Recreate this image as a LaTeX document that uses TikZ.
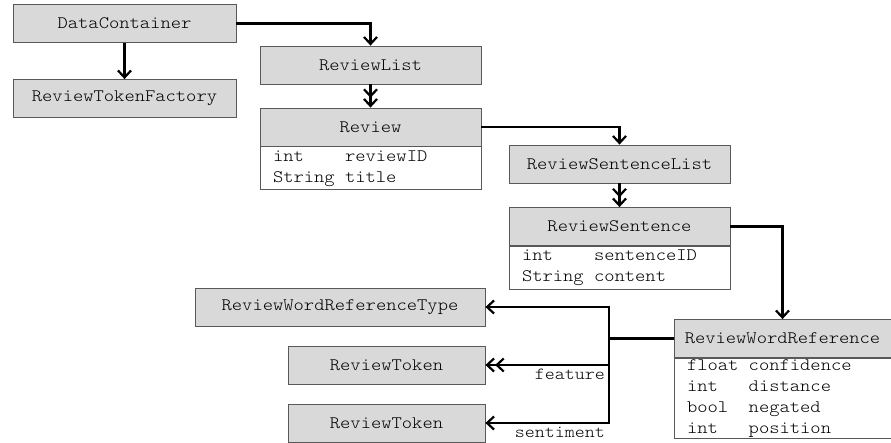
\documentclass[tikz,border=0pt]{standalone}
\usepackage{fontspec}
\setmonofont{Latin Modern Mono Light}[FakeStretch=1.12]
\usetikzlibrary{arrows.meta}
\newcommand\typecol[3]{\makebox[#1\fontcharwd\font`0][l]{#2}#3}
\tikzset{classhead/.style={draw=black!65,fill=black!15,line width=0.8pt,minimum height=38pt,inner sep=0pt,font=\ttfamily\fontsize{17.5}{21}\selectfont,text=black},
  classattr/.style={draw=black!65,fill=white,line width=0.8pt,inner xsep=13pt,inner ysep=0pt,align=left,anchor=north,font=\ttfamily\fontsize{17.5}{21}\selectfont,text=black},
  assoc/.style={line width=2.2pt,>={Straight Barb[length=7pt,width=13pt]}},
  rolelbl/.style={inner sep=3pt,font=\ttfamily\fontsize{17}{20}\selectfont,text=black}}

\begin{document}
\begin{tikzpicture}[x=1pt,y=-1pt]
\useasboundingbox (0,0) rectangle (891,443);
\node[classhead,minimum width=223pt] (DC)  at (124.5,23.5) {DataContainer};
\node[classhead,minimum width=223pt] (RTF) at (124.5,98.5) {ReviewTokenFactory};
\node[classhead,minimum width=221pt] (RL)  at (370.5,65)   {ReviewList};
\node[classhead,minimum width=221pt] (Review) at (370.5,127) {Review};
\node[classattr,minimum height=43pt,text width=195pt] (Review-attr) at (Review.south) {\typecol{7}{int}{reviewID}\\\typecol{7}{String}{title}};
\node[classhead,minimum width=221pt] (RSL) at (619.5,164)  {ReviewSentenceList};
\node[classhead,minimum width=221pt] (RS)  at (619.5,226.5) {ReviewSentence};
\node[classattr,minimum height=43pt,text width=195pt] (RS-attr) at (RS.south) {\typecol{7}{int}{sentenceID}\\\typecol{7}{String}{content}};
\node[classhead,minimum width=217pt] (RWR) at (782.5,338.5) {ReviewWordReference};
\node[classattr,minimum height=80pt,text width=191pt] (RWR-attr) at (RWR.south) {\typecol{6}{float}{confidence}\\\typecol{6}{int}{distance}\\\typecol{6}{bool}{negated}\\\typecol{6}{int}{position}};
\node[classhead,minimum width=290pt] (RWRT) at (340,307)   {ReviewWordReferenceType};
\node[classhead,minimum width=197pt] (RT1)  at (386.5,365) {ReviewToken};
\node[classhead,minimum width=197pt] (RT2)  at (386.5,423) {ReviewToken};
% associations
\draw[assoc,->]  (DC.east) -| (RL.north);
\draw[assoc,->]  (DC.south) -- (RTF.north);
\draw[assoc,->>] (RL.south) -- (Review.north);
\draw[assoc,->]  (Review.east) -| (RSL.north);
\draw[assoc,->>] (RSL.south) -- (RS.north);
\draw[assoc,->]  (RS.east) -| (RWR.north);
\coordinate (hub) at (609,338.5);
\draw[assoc] (RWR.west) -- (hub);
\draw[assoc,->]  (hub) |- (RWRT.east);
\draw[assoc,->>] (hub) |- node[rolelbl,pos=0.5,anchor=north east] {feature} (RT1.east);
\draw[assoc,->]  (hub) |- node[rolelbl,pos=0.5,anchor=north east] {sentiment} (RT2.east);
\end{tikzpicture}
\end{document}
